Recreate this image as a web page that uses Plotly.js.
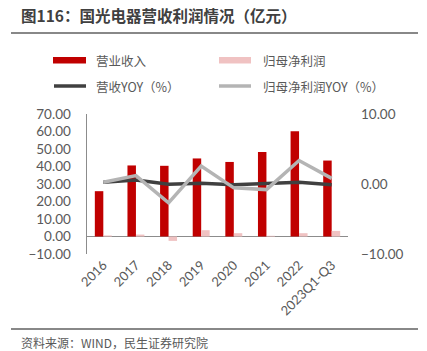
<!DOCTYPE html>
<html>
<head>
<meta charset="utf-8">
<script src="https://cdn.plot.ly/plotly-3.0.1.min.js"></script>
<style>html,body{margin:0;padding:0;background:#fff;}#chart{width:427px;height:351px;}</style>
</head>
<body>
<div id="chart"></div>
<script>
const categories = ["2016","2017","2018","2019","2020","2021","2022","2023Q1-Q3"];
const revenue = [25.9, 40.6, 40.4, 44.6, 42.6, 48.3, 60.2, 43.4];
const netProfit = [0.6, 1.1, -2.5, 3.6, 1.9, 0.4, 1.9, 3.2];
const revenueYoy = [0.25, 0.57, -0.05, 0.10, -0.10, 0.13, 0.25, -0.10];
const profitYoy = [0.26, 1.2, -2.7, 2.55, -0.55, -0.8, 3.35, 0.8];
const seriesNames = ["营业收入", "归母净利润", "营收YOY（%）", "归母净利润YOY（%）"];
const titleText = "图116：国光电器营收利润情况（亿元）";
const sourceText = "资料来源：WIND，民生证券研究院";

const L = 87, R = 348, T = 114, B = 254;
const px = x => (x - L) / (R - L);
const py = y => (B - y) / (B - T);

const cjk = '"Noto Sans CJK SC", "Noto Sans", sans-serif';
const numFont = 'Lato, "Noto Sans CJK SC", sans-serif';
const gray = '#595959';

const traces = [
  {type:'bar', x:categories, y:revenue, name:seriesNames[0], marker:{color:'#C00000'}, yaxis:'y'},
  {type:'bar', x:categories, y:netProfit, name:seriesNames[1], marker:{color:'#F0C2C2'}, yaxis:'y'},
  {type:'scatter', mode:'lines', x:categories, y:revenueYoy, name:seriesNames[2], line:{color:'#404040', width:3.5}, yaxis:'y2'},
  {type:'scatter', mode:'lines', x:categories, y:profitYoy, name:seriesNames[3], line:{color:'#B4B4B4', width:3.5}, yaxis:'y2'}
];

const shapes = [
  {type:'line', xref:'paper', yref:'paper', x0:px(11), x1:px(418), y0:py(33), y1:py(33), line:{color:'#606060', width:1.5}},
  {type:'line', xref:'paper', yref:'paper', x0:px(11), x1:px(418), y0:py(329), y1:py(329), line:{color:'#606060', width:1.5}},
  {type:'rect', xref:'paper', yref:'paper', x0:px(53), x1:px(86), y0:py(63.5), y1:py(57), fillcolor:'#C00000', line:{width:0}},
  {type:'rect', xref:'paper', yref:'paper', x0:px(219), x1:px(251), y0:py(63.5), y1:py(57), fillcolor:'#F0C2C2', line:{width:0}},
  {type:'line', xref:'paper', yref:'paper', x0:px(54), x1:px(86), y0:py(86), y1:py(86), line:{color:'#404040', width:3.5}},
  {type:'line', xref:'paper', yref:'paper', x0:px(219), x1:px(251), y0:py(86), y1:py(86), line:{color:'#B4B4B4', width:3.5}}
];

const annotations = [
  {xref:'paper', yref:'paper', x:px(19), y:py(15), xanchor:'left', yanchor:'middle', showarrow:false, text:'<b>'+titleText+'</b>', font:{family:cjk, size:15.5, color:'#404040'}},
  {xref:'paper', yref:'paper', x:px(19), y:py(342), xanchor:'left', yanchor:'middle', showarrow:false, text:sourceText, font:{family:cjk, size:12, color:gray}},
  {xref:'paper', yref:'paper', x:px(94), y:py(60), xanchor:'left', yanchor:'middle', showarrow:false, text:seriesNames[0], font:{family:cjk, size:12.5, color:gray}},
  {xref:'paper', yref:'paper', x:px(261), y:py(60), xanchor:'left', yanchor:'middle', showarrow:false, text:seriesNames[1], font:{family:cjk, size:12.5, color:gray}},
  {xref:'paper', yref:'paper', x:px(94), y:py(86), xanchor:'left', yanchor:'middle', showarrow:false, text:seriesNames[2], font:{family:cjk, size:12.5, color:gray}},
  {xref:'paper', yref:'paper', x:px(261), y:py(86), xanchor:'left', yanchor:'middle', showarrow:false, text:seriesNames[3], font:{family:cjk, size:12.5, color:gray}}
];

const layout = {
  width:427, height:351,
  margin:{l:L, r:427-R, t:T, b:351-B, pad:0},
  paper_bgcolor:'#fff', plot_bgcolor:'#fff',
  showlegend:false,
  barmode:'group', bargap:0.48, bargroupgap:0,
  font:{family:numFont, color:gray},
  xaxis:{type:'category', tickangle:-45, showgrid:false, showline:false, zeroline:false, ticks:'', tickfont:{family:numFont, size:13, color:gray}},
  yaxis:{range:[-10,70], dtick:10, tickformat:'.2f', showgrid:false, showline:true, linecolor:'#8c8c8c', linewidth:1.5, zeroline:true, zerolinecolor:'#8c8c8c', zerolinewidth:1.5, ticks:'', ticklabelstandoff:12, tickfont:{family:numFont, size:13.5, color:gray}},
  yaxis2:{overlaying:'y', side:'right', range:[-10,10], dtick:10, tickformat:'.2f', showgrid:false, showline:false, zeroline:false, ticks:'', ticklabelstandoff:12, tickfont:{family:numFont, size:13.5, color:gray}},
  shapes:shapes, annotations:annotations
};

Plotly.newPlot('chart', traces, layout, {staticPlot:true, displayModeBar:false});
</script>
</body>
</html>
